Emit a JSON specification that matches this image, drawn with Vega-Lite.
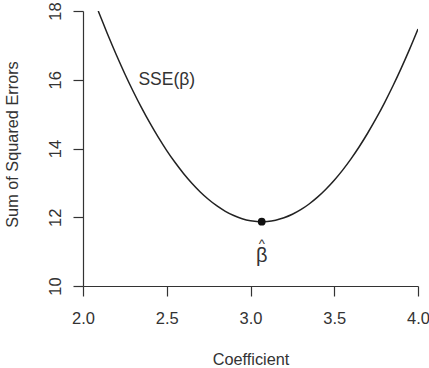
{
  "$schema": "https://vega.github.io/schema/vega-lite/v6.json",
  "autosize": {"type": "none"},
  "width": 335,
  "height": 275,
  "padding": {"left": 83, "top": 11, "right": 11, "bottom": 82},
  "background": "white",
  "config": {
    "view": {"stroke": null},
    "font": "Liberation Sans",
    "axis": {"grid": false, "domainColor": "#333", "tickColor": "#333", "labelColor": "#333", "titleColor": "#333", "labelFont": "Liberation Sans", "titleFont": "Liberation Sans", "labelFontSize": 16.5, "titleFontSize": 16.3, "titleFontWeight": "normal", "tickSize": 10, "domainWidth": 1.2, "tickWidth": 1.2}
  },
  "datasets": {
    "curve": [
      {"beta": 2.091, "sse": 18.0},
      {"beta": 2.10, "sse": 17.892},
      {"beta": 2.15, "sse": 17.285},
      {"beta": 2.20, "sse": 16.711},
      {"beta": 2.25, "sse": 16.169},
      {"beta": 2.30, "sse": 15.659},
      {"beta": 2.35, "sse": 15.181},
      {"beta": 2.40, "sse": 14.735},
      {"beta": 2.45, "sse": 14.322},
      {"beta": 2.50, "sse": 13.940},
      {"beta": 2.55, "sse": 13.591},
      {"beta": 2.60, "sse": 13.275},
      {"beta": 2.65, "sse": 12.990},
      {"beta": 2.70, "sse": 12.737},
      {"beta": 2.75, "sse": 12.517},
      {"beta": 2.80, "sse": 12.329},
      {"beta": 2.85, "sse": 12.173},
      {"beta": 2.90, "sse": 12.050},
      {"beta": 2.95, "sse": 11.958},
      {"beta": 3.00, "sse": 11.899},
      {"beta": 3.05, "sse": 11.872},
      {"beta": 3.067, "sse": 11.870},
      {"beta": 3.10, "sse": 11.877},
      {"beta": 3.15, "sse": 11.914},
      {"beta": 3.20, "sse": 11.984},
      {"beta": 3.25, "sse": 12.086},
      {"beta": 3.30, "sse": 12.220},
      {"beta": 3.35, "sse": 12.386},
      {"beta": 3.40, "sse": 12.584},
      {"beta": 3.45, "sse": 12.815},
      {"beta": 3.50, "sse": 13.077},
      {"beta": 3.55, "sse": 13.372},
      {"beta": 3.60, "sse": 13.700},
      {"beta": 3.65, "sse": 14.059},
      {"beta": 3.70, "sse": 14.451},
      {"beta": 3.75, "sse": 14.874},
      {"beta": 3.80, "sse": 15.330},
      {"beta": 3.85, "sse": 15.818},
      {"beta": 3.90, "sse": 16.339},
      {"beta": 3.95, "sse": 16.891},
      {"beta": 4.00, "sse": 17.476}
    ],
    "minimum": [{"beta": 3.067, "sse": 11.870}],
    "sselabel": [{"beta": 2.5, "sse": 15.99, "label": "SSE(β)"}],
    "beta": [{"beta": 3.067, "sse": 10.70, "label": "β"}],
    "hat": [{"beta": 3.067, "sse": 11.12, "label": "^"}]
  },
  "layer": [
    {
      "data": {"name": "curve"},
      "mark": {"type": "line", "color": "#222", "strokeWidth": 1.5, "interpolate": "monotone", "clip": true},
      "encoding": {
        "x": {"field": "beta", "type": "quantitative", "scale": {"domain": [2, 4], "nice": false, "zero": false},
          "axis": {"title": "Coefficient", "values": [2, 2.5, 3, 3.5, 4], "format": ".1f", "labelBaseline": "alphabetic", "labelPadding": 27, "titleX": 167.5, "titleY": 78, "titleBaseline": "alphabetic", "titleAnchor": null, "labelFlush": false}},
        "y": {"field": "sse", "type": "quantitative", "scale": {"domain": [10, 18], "nice": false, "zero": false},
          "axis": {"title": "Sum of Squared Errors", "values": [10, 12, 14, 16, 18], "labelAngle": -90, "labelAlign": "center", "labelBaseline": "alphabetic", "labelPadding": 13, "labelFlush": false, "titleAngle": -90, "titleX": -66, "titleY": 133, "titleBaseline": "alphabetic", "titleAlign": "center"}}
      }
    },
    {
      "data": {"name": "minimum"},
      "mark": {"type": "point", "filled": true, "color": "#111", "size": 60, "opacity": 1},
      "encoding": {
        "x": {"field": "beta", "type": "quantitative"},
        "y": {"field": "sse", "type": "quantitative"}
      }
    },
    {
      "data": {"name": "sselabel"},
      "mark": {"type": "text", "fontSize": 17.5, "color": "#333", "baseline": "middle", "align": "center"},
      "encoding": {
        "x": {"field": "beta", "type": "quantitative"},
        "y": {"field": "sse", "type": "quantitative"},
        "text": {"field": "label"}
      }
    },
    {
      "data": {"name": "beta"},
      "mark": {"type": "text", "fontSize": 20, "color": "#333", "baseline": "alphabetic", "align": "center"},
      "encoding": {
        "x": {"field": "beta", "type": "quantitative"},
        "y": {"field": "sse", "type": "quantitative"},
        "text": {"field": "label"}
      }
    },
    {
      "data": {"name": "hat"},
      "mark": {"type": "text", "fontSize": 13, "color": "#333", "baseline": "alphabetic", "align": "center"},
      "encoding": {
        "x": {"field": "beta", "type": "quantitative"},
        "y": {"field": "sse", "type": "quantitative"},
        "text": {"field": "label"}
      }
    }
  ]
}
